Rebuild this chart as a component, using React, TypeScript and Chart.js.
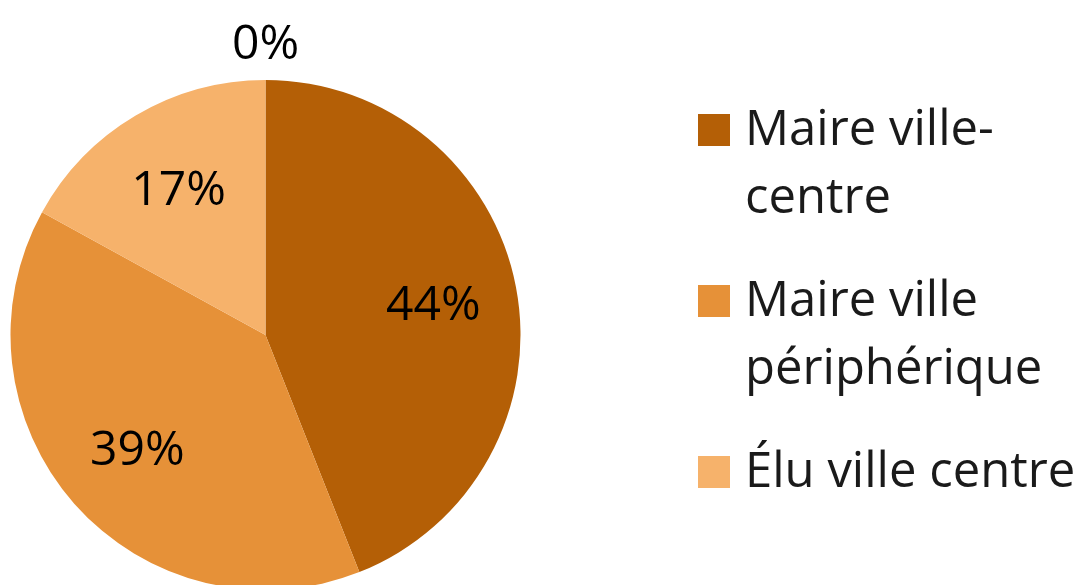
import React, { useEffect, useRef } from "react";
import { Chart, registerables } from "chart.js";

Chart.register(...registerables);

const categories = ["Maire ville-centre", "Maire ville périphérique", "Élu ville centre", "Autre"];
const values = [44, 39, 17, 0];
const colors = ["#B45F06", "#E69138", "#F6B26B", "#D9D9D9"];

const FONT = '"Open Sans", "Noto Sans", sans-serif';

const labelPlugin = {
  id: "pieLabels",
  afterDatasetsDraw(chart: any) {
    const ctx = chart.ctx;
    const meta = chart.getDatasetMeta(0);
    const data = chart.data.datasets[0].data as number[];
    const total = data.reduce((a, b) => a + b, 0);
    ctx.save();
    ctx.font = `48px ${FONT}`;
    ctx.fillStyle = "#000";
    ctx.textAlign = "center";
    ctx.textBaseline = "alphabetic";
    meta.data.forEach((el: any, i: number) => {
      const p = el.getProps(["x", "y", "startAngle", "endAngle", "outerRadius"], true);
      const mid = (p.startAngle + p.endAngle) / 2;
      const v = data[i];
      const dist = v === 0 ? p.outerRadius + 38 : p.outerRadius * 0.67;
      const x = p.x + Math.cos(mid) * dist;
      const y = p.y + Math.sin(mid) * dist;
      const txt = Math.round((v / total) * 100) + "%";
      ctx.fillText(txt, x, y + 17);
    });
    ctx.restore();
  },
};

export default function App() {
  const ref = useRef<HTMLCanvasElement>(null);
  useEffect(() => {
    if (!ref.current) return;
    const chart = new Chart(ref.current, {
      type: "pie",
      data: {
        labels: categories,
        datasets: [
          {
            data: values,
            backgroundColor: colors,
            borderWidth: 0,
          },
        ],
      },
      options: {
        responsive: false,
        animation: false,
        devicePixelRatio: 1,
        layout: { padding: { left: 10, top: 80, right: 0, bottom: 10 } },
        plugins: {
          legend: { display: false },
          tooltip: { enabled: false },
        },
      },
      plugins: [labelPlugin],
    });
    return () => chart.destroy();
  }, []);

  const legendItems = categories
    .map((c, i) => ({ c, i }))
    .filter(({ i }) => values[i] !== 0);

  return (
    <div
      style={{
        position: "fixed",
        left: 0,
        top: 0,
        width: 1086,
        height: 585,
        overflow: "hidden",
        background: "#fff",
      }}
    >
      <canvas ref={ref} width={521} height={600} style={{ position: "absolute", left: 0, top: 0 }} />
      <div
        style={{
          position: "absolute",
          left: 698,
          top: 92,
          display: "flex",
          flexDirection: "column",
          gap: 35,
          fontFamily: FONT,
          fontSize: 49,
          lineHeight: "68px",
          color: "#1a1a1a",
        }}
      >
        {legendItems.map(({ c, i }) => (
          <div key={c} style={{ display: "flex", alignItems: "flex-start" }}>
            <div
              style={{
                width: 32,
                height: 32,
                marginTop: 22,
                background: colors[i],
                flex: "0 0 auto",
              }}
            />
            <div style={{ marginLeft: 15, width: 341 }}>{c}</div>
          </div>
        ))}
      </div>
    </div>
  );
}
